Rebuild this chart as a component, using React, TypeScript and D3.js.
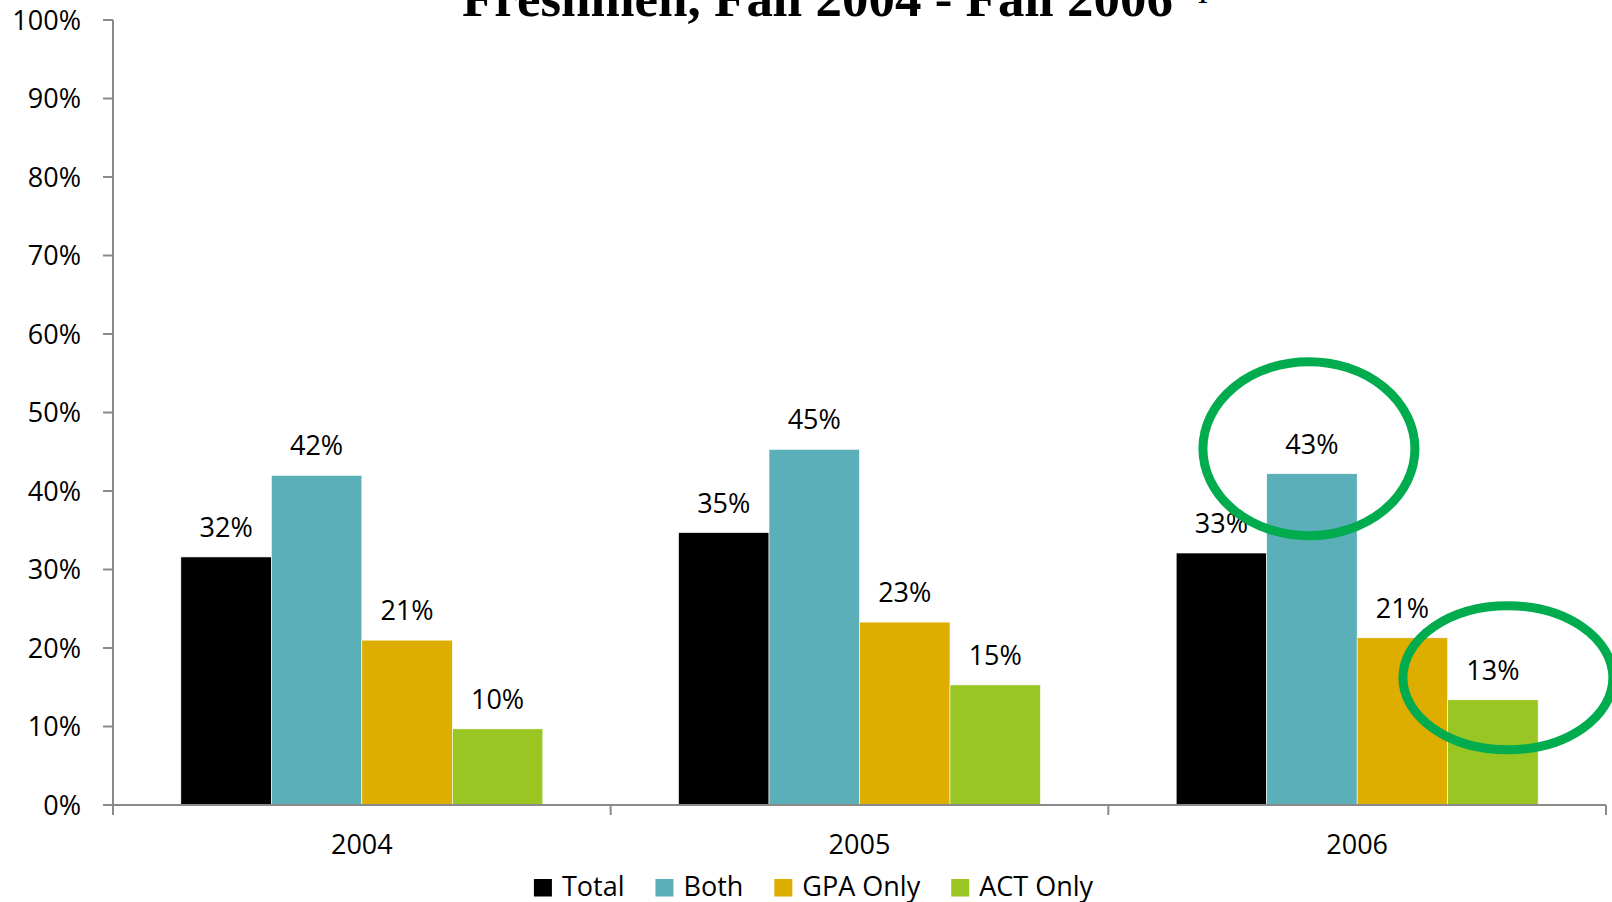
import { useEffect, useRef } from 'react';
import * as d3 from 'd3';

const YEARS = ['2004', '2005', '2006'];
const SERIES = ['Total', 'Both', 'GPA Only', 'ACT Only'];
const COLORS = ['#000000', '#5aafb8', '#ddad00', '#99c623'];
// one row per year, one value per series (percent)
const VALUES = [
  [31.6, 42.0, 21.0, 9.7],
  [34.7, 45.3, 23.3, 15.3],
  [32.1, 42.2, 21.3, 13.4],
];
const LABELS = [
  ['32%', '42%', '21%', '10%'],
  ['35%', '45%', '23%', '15%'],
  ['33%', '43%', '21%', '13%'],
];
const Y_TICKS = [0, 10, 20, 30, 40, 50, 60, 70, 80, 90, 100];
const HIGHLIGHTS = [
  { year: '2006', series: 'Both' },
  { year: '2006', series: 'ACT Only' },
];

const W = 1612;
const H = 902;
const FONT = "'Open Sans', sans-serif";
const AXIS = '#8a8a8a';

export default function App() {
  const svgRef = useRef<SVGSVGElement>(null);

  useEffect(() => {
    const el = svgRef.current;
    if (!el) return;
    const svg = d3.select(el);
    svg.selectAll('*').remove();

    const left = 113, right = 1606, top = 20, bottom = 805;

    const x0 = d3.scaleBand().domain(YEARS).range([left, right]).padding(0);
    const x1 = d3.scaleBand().domain(SERIES).range([0, x0.bandwidth()]).paddingInner(0).paddingOuter(0.75);
    const y = d3.scaleLinear().domain([0, 100]).range([bottom, top]);

    // Title (top is clipped in the original)
    svg.append('text')
      .attr('x', 462).attr('y', 16)
      .attr('font-family', "'Liberation Serif', 'Times New Roman', serif")
      .attr('font-weight', 700).attr('font-size', 53)
      .attr('fill', '#000')
      .attr('textLength', 711).attr('lengthAdjust', 'spacingAndGlyphs')
      .text('Freshmen, Fall 2004 - Fall 2006');
    svg.append('text')
      .attr('x', 1197).attr('y', 3)
      .attr('font-family', "'Liberation Serif', 'Times New Roman', serif")
      .attr('font-weight', 700).attr('font-size', 22)
      .attr('fill', '#000')
      .text('1');

    // Bars
    YEARS.forEach((yr, i) => {
      SERIES.forEach((s, j) => {
        const v = VALUES[i][j];
        const bx = (x0(yr) || 0) + (x1(s) || 0);
        svg.append('rect')
          .attr('x', bx).attr('y', y(v))
          .attr('width', x1.bandwidth()).attr('height', y(0) - y(v))
          .attr('fill', COLORS[j])
          .attr('stroke', '#ffffff').attr('stroke-width', 0.6);
        svg.append('text')
          .attr('x', bx + x1.bandwidth() / 2).attr('y', y(v) - 20)
          .attr('text-anchor', 'middle')
          .attr('font-family', FONT).attr('font-size', 27).attr('fill', '#000')
          .text(LABELS[i][j]);
      });
    });

    // Y axis
    svg.append('line')
      .attr('x1', left).attr('x2', left).attr('y1', top).attr('y2', bottom + 10)
      .attr('stroke', AXIS).attr('stroke-width', 2);
    Y_TICKS.forEach((t) => {
      svg.append('line')
        .attr('x1', left - 10).attr('x2', left).attr('y1', y(t)).attr('y2', y(t))
        .attr('stroke', AXIS).attr('stroke-width', 2);
      svg.append('text')
        .attr('x', 81).attr('y', y(t) + 9.5)
        .attr('text-anchor', 'end')
        .attr('font-family', FONT).attr('font-size', 27).attr('fill', '#000')
        .text(`${t}%`);
    });

    // X axis
    svg.append('line')
      .attr('x1', left - 10).attr('x2', right).attr('y1', bottom).attr('y2', bottom)
      .attr('stroke', AXIS).attr('stroke-width', 2);
    YEARS.forEach((yr) => {
      const bx = x0(yr) || 0;
      svg.append('line')
        .attr('x1', bx + x0.bandwidth()).attr('x2', bx + x0.bandwidth())
        .attr('y1', bottom).attr('y2', bottom + 10)
        .attr('stroke', AXIS).attr('stroke-width', 2);
      svg.append('text')
        .attr('x', bx + x0.bandwidth() / 2).attr('y', 854)
        .attr('text-anchor', 'middle')
        .attr('font-family', FONT).attr('font-size', 27).attr('fill', '#000')
        .text(yr);
    });

    // Highlight ellipses
    const ellipseGeom = [
      { dx: -3, dy: -25, rx: 106, ry: 87 },
      { dx: 15, dy: -22, rx: 105, ry: 72 },
    ];
    HIGHLIGHTS.forEach((h, k) => {
      const i = YEARS.indexOf(h.year);
      const j = SERIES.indexOf(h.series);
      const cx = (x0(h.year) || 0) + (x1(h.series) || 0) + x1.bandwidth() / 2;
      const g = ellipseGeom[k];
      svg.append('ellipse')
        .attr('cx', cx + g.dx).attr('cy', y(VALUES[i][j]) + g.dy)
        .attr('rx', g.rx).attr('ry', g.ry)
        .attr('fill', 'none').attr('stroke', '#00ac4e').attr('stroke-width', 9);
    });

    // Legend, centred, items measured
    const legend = svg.append('g');
    let cursor = 0;
    SERIES.forEach((s, j) => {
      const item = legend.append('g').attr('transform', `translate(${cursor},0)`);
      item.append('rect').attr('x', 0).attr('y', 879).attr('width', 18).attr('height', 17.5).attr('fill', COLORS[j]);
      const t = item.append('text')
        .attr('x', 28).attr('y', 896)
        .attr('font-family', FONT).attr('font-size', 27).attr('fill', '#000')
        .text(s);
      const tw = (t.node() as SVGTextElement).getComputedTextLength();
      cursor += 28 + tw + 31;
    });
    const legendW = cursor - 31;
    legend.attr('transform', `translate(${813.5 - legendW / 2},0)`);
  }, []);

  return (
    <div style={{ position: 'absolute', left: 0, top: 0, width: W, height: H, background: '#fff' }}>
      <svg ref={svgRef} width={W} height={H} style={{ display: 'block', overflow: 'hidden' }} />
    </div>
  );
}
